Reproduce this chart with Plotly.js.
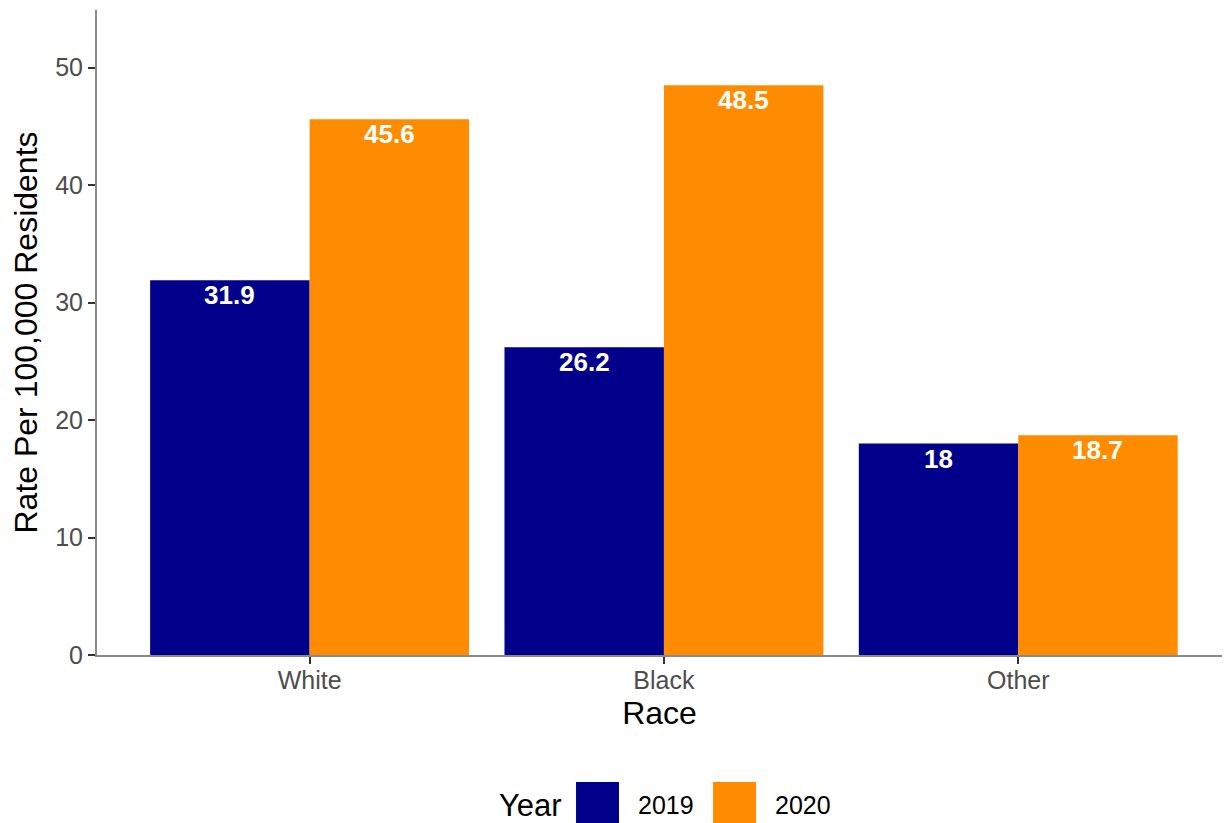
<!DOCTYPE html>
<html>
<head>
<meta charset="utf-8">
<script src="https://cdn.plot.ly/plotly-3.0.1.min.js"></script>
<style>html,body{margin:0;padding:0;background:#fff;}#chart{width:1226px;height:823px;}</style>
</head>
<body>
<div id="chart"></div>
<script>
const races = ["White", "Black", "Other"];
const years = ["2019", "2020"];
const rate2019 = [31.9, 26.2, 18];
const rate2020 = [45.6, 48.5, 18.7];
const yTicks = [0, 10, 20, 30, 40, 50];
const colors = {"2019": "#00008B", "2020": "#FF8C00"};

const FONT = "Liberation Sans, Arial, sans-serif";

const traces = [
  {type: "bar", name: "2019", x: races, y: rate2019, marker: {color: colors["2019"], line: {width: 0}}, showlegend: false, hoverinfo: "x+y"},
  {type: "bar", name: "2020", x: races, y: rate2020, marker: {color: colors["2020"], line: {width: 0}}, showlegend: false, hoverinfo: "x+y"}
];

const annotations = [];
const groupOffset = 0.225;
[rate2019, rate2020].forEach((vals, s) => {
  vals.forEach((v, i) => {
    annotations.push({
      x: i + (s === 0 ? -groupOffset : groupOffset), y: v, xref: "x", yref: "y",
      text: "<b>" + String(v) + "</b>", showarrow: false,
      yanchor: "middle", yshift: -15,
      font: {family: FONT, size: 26, color: "#ffffff"}
    });
  });
});

// legend (drawn manually to mimic ggplot's large keys)
const legendBoxes = [
  {year: "2019", x0: 0.4258, x1: 0.4640, tx: 0.4791},
  {year: "2020", x0: 0.5476, x1: 0.5858, tx: 0.6009}
];
const shapes = [];
annotations.push({xref: "paper", yref: "paper", x: 0.3556, y: -0.2326, xanchor: "left", yanchor: "middle",
  text: "Year", showarrow: false, font: {family: FONT, size: 31, color: "#000"}});
legendBoxes.forEach(b => {
  shapes.push({type: "rect", xref: "paper", yref: "paper", x0: b.x0, x1: b.x1, y0: -0.1969, y1: -0.2651,
    fillcolor: colors[b.year], line: {width: 0}});
  annotations.push({xref: "paper", yref: "paper", x: b.tx, y: -0.2326, xanchor: "left", yanchor: "middle",
    text: b.year, showarrow: false, font: {family: FONT, size: 25, color: "#000"}});
});

const layout = {
  width: 1226, height: 823,
  margin: {l: 97, r: 4, t: 10, b: 168},
  paper_bgcolor: "#fff", plot_bgcolor: "#fff",
  barmode: "group", bargap: 0.1, bargroupgap: 0,
  font: {family: FONT},
  xaxis: {
    type: "category", range: [-0.6, 2.575],
    showgrid: false, zeroline: false,
    showline: true, linecolor: "#8a8a8a", linewidth: 2,
    ticks: "outside", ticklen: 7, tickwidth: 2, tickcolor: "#333333",
    ticklabelstandoff: -5,
    tickfont: {family: FONT, size: 25, color: "#4d4d4d"},
    title: {text: "Race", font: {family: FONT, size: 32, color: "#000"}, standoff: 9}
  },
  yaxis: {
    range: [0, 54.9], tickvals: yTicks, ticktext: yTicks.map(String),
    showgrid: false, zeroline: false,
    showline: true, linecolor: "#8a8a8a", linewidth: 2,
    ticks: "outside", ticklen: 7, tickwidth: 2, tickcolor: "#333333",
    tickfont: {family: FONT, size: 25, color: "#4d4d4d"},
    title: {text: "Rate Per 100,000 Residents", font: {family: FONT, size: 32, color: "#000"}, standoff: 8}
  },
  annotations: annotations,
  shapes: shapes
};

Plotly.newPlot("chart", traces, layout, {displayModeBar: false, staticPlot: true});
</script>
</body>
</html>
